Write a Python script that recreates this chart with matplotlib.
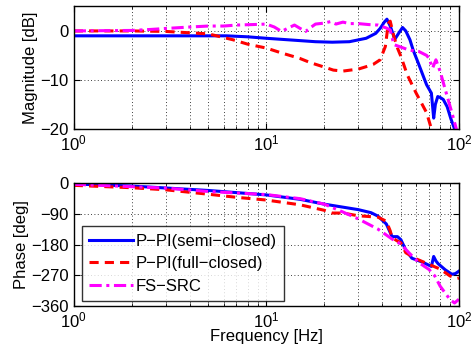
import numpy as np
import matplotlib
matplotlib.use("Agg")
import matplotlib.pyplot as plt
from matplotlib.ticker import FixedLocator, NullFormatter

plt.rcParams['font.family'] = ['Liberation Sans', 'DejaVu Sans']
plt.rcParams['mathtext.default'] = 'regular'

# ---- Magnitude data ----
mag_semi_f = [1, 2, 4, 6.2, 8, 10, 14, 18, 22, 27, 33, 37, 39, 41, 42.3, 44, 46.5, 49, 51, 53,
              55.7, 58, 61.6, 65, 68, 72, 74, 75.5, 77.7, 80, 83, 87, 91, 95, 100]
mag_semi = [-1.0, -1.0, -1.0, -1.0, -1.2, -1.5, -1.9, -2.2, -2.3, -2.2, -1.5, -0.5, 0.5, 1.8, 2.4,
            1.0, -1.7, -0.3, 0.7, 0.0, -1.8, -4.0, -6.6, -9.0, -11.0, -12.7, -17.8, -15.0, -13.4,
            -13.6, -14.0, -15.5, -18.0, -20.0, -22.0]

mag_full_f = [1, 2, 3, 5, 6.7, 8, 10, 12, 14.9, 17, 19.7, 22.3, 25, 27.3, 30, 33, 36, 39, 41.5,
              43, 44, 46, 48, 50, 54, 60, 68, 72, 75]
mag_full = [0, 0, -0.1, -0.6, -1.8, -2.7, -3.5, -4.5, -5.6, -6.5, -7.3, -8.0, -8.2, -8.0, -7.8,
            -7.3, -6.8, -5.9, -3.2, 1.5, 2.0, -1.2, -3.5, -5.2, -9.0, -12.7, -16.7, -20.0, -22.0]

mag_src_f = [1, 2, 2.5, 3, 4, 5, 6, 7, 8.5, 10, 11, 12, 13, 14, 15, 16, 17, 18, 20, 21.5, 23, 25,
             27, 30, 34, 38, 42, 44, 46, 50, 55, 62, 68, 70, 73, 76, 80, 85, 92, 97, 100]
mag_src = [0, 0.1, 0.3, 0.5, 0.8, 1.0, 1.0, 1.2, 1.3, 1.4, 0.8, -0.1, 0.6, 1.2, 0.5, -0.1, 0.7,
           1.4, 1.6, 1.9, 1.4, 1.8, 1.5, 1.5, 1.3, 1.2, 0.6, 0.2, -2.8, -3.3, -3.9, -4.2, -5.0,
           -5.6, -7.6, -5.9, -8.3, -12.0, -16.7, -20.0, -22.0]

# ---- Phase data ----
ph_semi_f = [1, 2, 5, 10, 15, 20, 30, 35, 38, 42, 44, 45, 48, 50, 53, 57, 65, 72, 74, 76, 78, 85,
             92, 96, 100]
ph_semi = [-3, -9, -22, -35, -48, -62, -78, -87, -97, -120, -145, -157, -157, -166, -196, -220,
           -232, -244, -215, -228, -236, -254, -267, -265, -258]

ph_full_f = [1, 2, 3, 5, 7, 10, 15, 20, 22, 25, 30, 38, 42, 44, 45, 48, 50, 53, 60, 70, 80, 90,
             98, 100]
ph_full = [-7, -14, -20, -33, -42, -50, -64, -80, -88, -88, -96, -100, -112, -140, -160, -170,
           -175, -204, -222, -238, -252, -272, -279, -278]

ph_src_f = [1, 3, 5, 10, 15, 20, 25, 30, 38, 45, 50, 55, 62, 70, 75, 80, 90, 95, 100]
ph_src = [-4, -15, -25, -34, -46, -62, -85, -105, -135, -164, -179, -204, -233, -253, -272,
          -302, -341, -351, -340]

labels = ['P\u2212PI(semi\u2212closed)', 'P\u2212PI(full\u2212closed)', 'FS\u2212SRC']
xticks = [1, 10, 100]
xticklabels = ['$10^{0}$', '$10^{1}$', '$10^{2}$']
mag_ticks = [-20, -10, 0]
ph_ticks = [-360, -270, -180, -90, 0]

fig = plt.figure(figsize=(4.76, 3.58), dpi=100)
ax1 = fig.add_axes([0.155, 0.640, 0.809, 0.342])
ax2 = fig.add_axes([0.155, 0.145, 0.809, 0.344])

styles = [dict(color='#0000ff', ls='-', lw=2.2),
          dict(color='#ff0000', ls=(0, (3, 2)), lw=2.2),
          dict(color='#ff00ff', ls=(0, (4, 1.5, 1, 1.5)), lw=2.2)]

for f, m, st, lab in zip([mag_semi_f, mag_full_f, mag_src_f], [mag_semi, mag_full, mag_src], styles, labels):
    ax1.plot(f, m, label=lab, **st)
for f, p, st, lab in zip([ph_semi_f, ph_full_f, ph_src_f], [ph_semi, ph_full, ph_src], styles, labels):
    ax2.plot(f, p, label=lab, **st)

for ax, yt in [(ax1, mag_ticks), (ax2, ph_ticks)]:
    ax.set_xscale('log')
    ax.set_xlim(1, 100)
    ax.set_xticks(xticks)
    ax.set_xticklabels(xticklabels)
    ax.xaxis.set_minor_locator(FixedLocator([k * 10**d for d in range(0, 2) for k in range(2, 10)]))
    ax.xaxis.set_minor_formatter(NullFormatter())
    ax.set_yticks(yt)
    ax.set_yticklabels([str(v).replace('-', '\u2212') for v in yt])
    ax.grid(True, which='both', axis='x', ls=(0, (1, 3)), color='k', lw=0.6)
    ax.grid(True, which='major', axis='y', ls=(0, (1, 3)), color='k', lw=0.6)
    ax.tick_params(which='both', direction='in', top=True, right=True, labelsize=12)
    ax.tick_params(which='major', length=4)
    ax.tick_params(which='minor', length=2)
    for s in ax.spines.values():
        s.set_linewidth(1.0)

ax1.set_ylim(-20, 5)
ax2.set_ylim(-360, 0)
ax1.set_ylabel('Magnitude [dB]', fontsize=12, labelpad=2)
ax2.set_ylabel('Phase [deg]', fontsize=12, labelpad=2)
ax2.set_xlabel('Frequency [Hz]', fontsize=12, labelpad=-1)

leg = ax2.legend(loc='upper left', bbox_to_anchor=(0.021, 0.65), borderaxespad=0,
                 fontsize=12, frameon=True, fancybox=False, handlelength=2.6,
                 handletextpad=0.15, borderpad=0.45, labelspacing=0.45)
leg.get_frame().set_edgecolor('k')
leg.get_frame().set_linewidth(1.0)

fig.savefig('out.png', dpi=100)
